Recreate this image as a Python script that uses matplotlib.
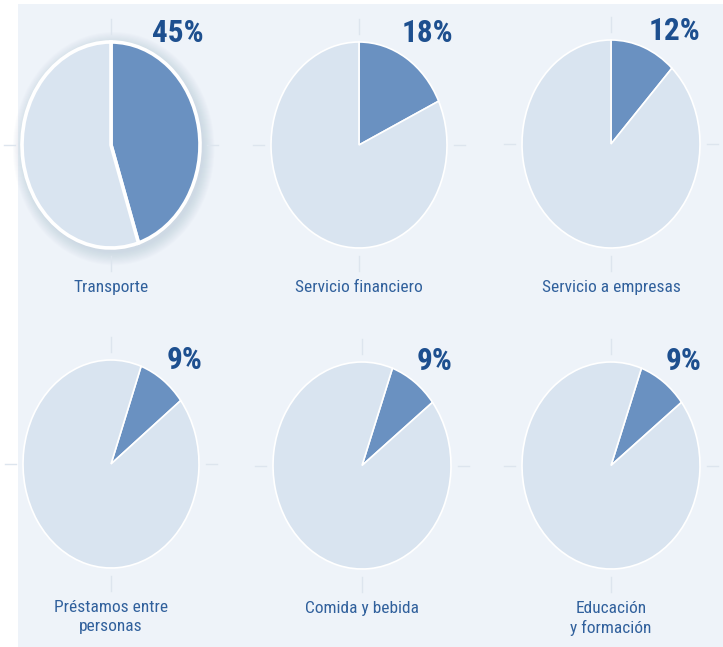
import matplotlib
matplotlib.use("Agg")
import matplotlib.pyplot as plt
from matplotlib.patches import Ellipse, Rectangle

# Share of each sector (percent)
categories = ["Transporte", "Servicio financiero", "Servicio a empresas",
              "Préstamos entre\npersonas", "Comida y bebida", "Educación\ny formación"]
shares = [45, 18, 12, 9, 9, 9]
pct_labels = ["45%", "18%", "12%", "9%", "9%", "9%"]
# angle (degrees clockwise from 12 o'clock) where the highlighted slice begins
start_offsets = [0, 0, 0, 20, 20, 20]

W, H = 723, 647
fig = plt.figure(figsize=(W / 100, H / 100), dpi=100)
fig.patch.set_facecolor("white")

BG = "#eef3f9"
LIGHT = "#d9e4f0"
DARK = "#6a91c1"
PCT_COLOR = "#1d4f8f"
LABEL_COLOR = "#30609c"
TICK_COLOR = "#dde5ee"
FONT = ["Roboto Condensed", "Roboto", "DejaVu Sans"]

# panel background
fig.patches.append(Rectangle((18 / W, 0), 1 - 18 / W, 1 - 4 / H,
                             transform=fig.transFigure, facecolor=BG,
                             edgecolor="none", zorder=-10))

# pie boxes in pixels: left, top, width, height
boxes = [(22, 42, 178, 206), (271, 42, 176, 206), (522, 40, 178, 208),
         (23, 360, 176, 208), (273, 362, 178, 207), (522, 362, 178, 207)]
# anchor of the percentage label (axes fraction: right edge, baseline)
pct_anchor = [(1.02, 1.0), (1.035, 1.0), (1.0, 1.0),
              (1.02, 0.955), (1.01, 0.96), (1.01, 0.96)]

for i, (cat, val, pl, off) in enumerate(zip(categories, shares, pct_labels, start_offsets)):
    l, t, w, h = boxes[i]
    ax = fig.add_axes([l / W, 1 - (t + h) / H, w / W, h / H])
    ax.set_facecolor("none")
    highlighted = i == 0
    if highlighted:
        for k in range(12):
            grow = 1 + 0.011 * (k + 1)
            ax.add_patch(Ellipse((0.03, -0.035), 2 * grow, 2 * grow,
                                 facecolor="#8ea6c4", edgecolor="none",
                                 alpha=0.028, zorder=0, clip_on=False))
    wedges, _ = ax.pie([val, 100 - val], colors=[DARK, LIGHT],
                       startangle=90 - off, counterclock=False, radius=1,
                       wedgeprops=dict(edgecolor="white",
                                       linewidth=2.6 if highlighted else 1.2))
    for wd in wedges:
        wd.set_zorder(2)
        wd.set_clip_on(False)
    ax.set_aspect("auto")
    ax.set_xlim(-1, 1)
    ax.set_ylim(-1, 1)
    ax.axis("off")

    # faint guide ticks around each pie
    for xs, ys in [([0.5, 0.5], [1.04, 1.11]), ([0.5, 0.5], [-0.04, -0.11]),
                   ([1.04, 1.10], [0.5, 0.5]), ([-0.04, -0.10], [0.5, 0.5])]:
        ax.plot(xs, ys, transform=ax.transAxes, color=TICK_COLOR,
                lw=1, clip_on=False, zorder=1)

    # percentage label at upper right
    px, py = pct_anchor[i]
    ax.text(px, py, pl, transform=ax.transAxes, ha="right", va="baseline",
            fontsize=22.5, fontweight="bold", color=PCT_COLOR, family=FONT)
    # category label below
    ax.text(0.5, -0.155, cat, transform=ax.transAxes, ha="center", va="top",
            fontsize=12.5, color=LABEL_COLOR, family=FONT, linespacing=1.3)

fig.savefig("out.png", dpi=100, facecolor=fig.get_facecolor())
